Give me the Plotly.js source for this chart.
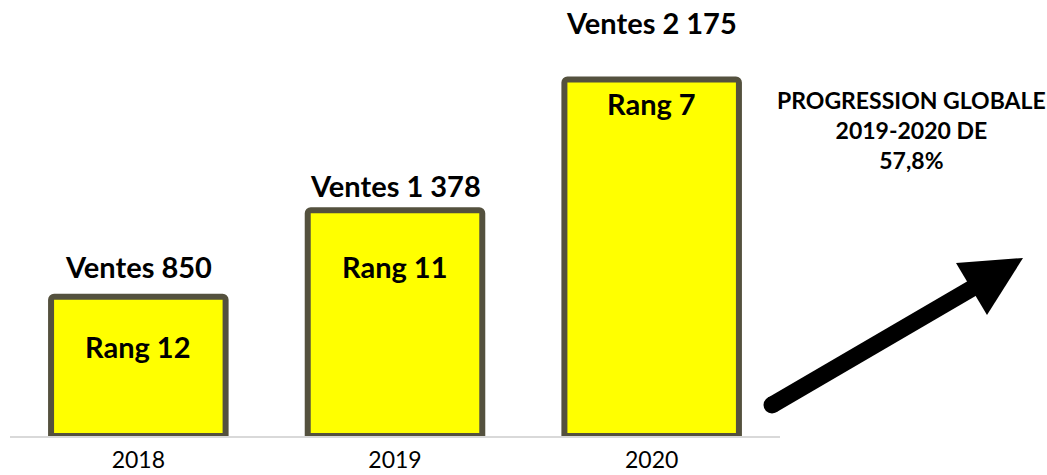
<!DOCTYPE html>
<html>
<head>
<meta charset="utf-8">
<script src="https://cdn.plot.ly/plotly-3.0.1.min.js"></script>
<style>html,body{margin:0;padding:0;background:#fff}#chart{width:1047px;height:475px}</style>
</head>
<body>
<div id="chart"></div>
<script>
// ---- data ----
const years = ['2018', '2019', '2020'];
const ventes = [850, 1378, 2175];
const venteLabels = ['Ventes 850', 'Ventes 1 378', 'Ventes 2 175'];
const rangs = ['Rang 12', 'Rang 11', 'Rang 7'];
const progressionText = 'PROGRESSION GLOBALE<br>2019-2020 DE<br>57,8%';

// ---- styling / layout helpers ----
const M = {l: 10, r: 267, t: 30, b: 39};
const W = 1047, H = 475;
const pw = W - M.l - M.r, ph = H - M.t - M.b;
const px = v => (v - M.l) / pw;          // pixel x -> paper
const py = v => (H - M.b - v) / ph;      // pixel y -> paper
const venteShift = [11, 5, 37];
const rangShift = [-50, -56, -24];
const FONT = 'Lato, "Open Sans", sans-serif';

const trace = {
  type: 'bar',
  x: years,
  y: ventes,
  width: 0.68,
  marker: {color: '#ffff00', line: {color: '#54513e', width: 6}, cornerradius: 3},
  hoverinfo: 'skip'
};

const annotations = [];
years.forEach((yr, i) => {
  annotations.push({
    x: i, y: ventes[i], xref: 'x', yref: 'y', text: '<b>' + venteLabels[i] + '</b>',
    showarrow: false, yanchor: 'bottom', yshift: venteShift[i],
    font: {family: FONT, size: 29, color: '#000'}
  });
  annotations.push({
    x: i, y: ventes[i], xref: 'x', yref: 'y', text: '<b>' + rangs[i] + '</b>',
    showarrow: false, yanchor: 'middle', yshift: rangShift[i],
    font: {family: FONT, size: 29, color: '#000'}
  });
});
annotations.push({
  x: px(911), y: py(130), xref: 'paper', yref: 'paper', text: '<b>' + progressionText + '</b>',
  showarrow: false, xanchor: 'center', yanchor: 'middle', align: 'center',
  font: {family: FONT, size: 23, color: '#000'}
});

const r = 8.5;
const shapes = [
  {type: 'line', xref: 'paper', yref: 'paper', x0: px(772), y0: py(405), x1: px(976), y1: py(286),
   line: {color: '#000', width: 17}, layer: 'above'},
  {type: 'circle', xref: 'paper', yref: 'paper', x0: px(772 - r), x1: px(772 + r), y0: py(405 + r), y1: py(405 - r),
   fillcolor: '#000', line: {width: 0}, layer: 'above'},
  {type: 'path', xref: 'paper', yref: 'paper',
   path: `M ${px(956)} ${py(263)} L ${px(1023)} ${py(258)} L ${px(987)} ${py(315)} Z`,
   fillcolor: '#000', line: {width: 0}, layer: 'above'}
];

const layout = {
  width: W, height: H,
  margin: M,
  paper_bgcolor: '#fff', plot_bgcolor: '#fff',
  showlegend: false,
  xaxis: {
    type: 'category', range: [-0.5, 2.5], showgrid: false, zeroline: false,
    showline: true, linecolor: '#d9d9d9', linewidth: 1.5, ticks: '', ticklabelstandoff: 3,
    tickfont: {family: FONT, size: 23, color: '#000'}, fixedrange: true
  },
  yaxis: {range: [0, 2477], visible: false, showgrid: false, zeroline: false, fixedrange: true},
  annotations: annotations,
  shapes: shapes
};

Plotly.newPlot('chart', [trace], layout, {displayModeBar: false, staticPlot: true});
</script>
</body>
</html>
